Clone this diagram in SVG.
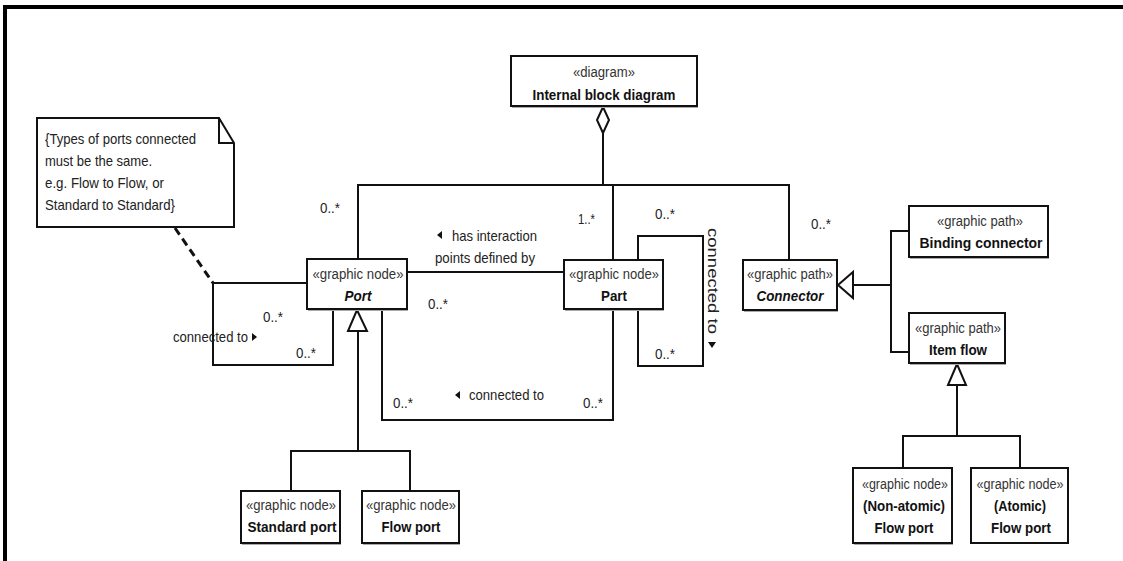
<svg xmlns="http://www.w3.org/2000/svg" width="1123" height="561" viewBox="0 0 1123 561">
<style>
.box{fill:#fff;stroke:#111;stroke-width:2}
.shadow{fill:#aaa;stroke:none}
.ln{fill:none;stroke:#111;stroke-width:2}
.st{font-family:"Liberation Sans",Arial,sans-serif;font-size:14px;fill:#333;text-anchor:middle}
.nm{font-family:"Liberation Sans",Arial,sans-serif;font-size:15px;font-weight:bold;fill:#111;text-anchor:middle}
.lb{font-family:"Liberation Sans",Arial,sans-serif;font-size:14.5px;fill:#222}
.tri{fill:#fff;stroke:#111;stroke-width:2}
.arr{fill:#111;stroke:none}
</style>
<rect x="0" y="0" width="1123" height="561" fill="#fff"/>
<g id="frame">
<line x1="3" y1="7" x2="1123" y2="7" stroke="#000" stroke-width="4"/>
<line x1="5" y1="5" x2="5" y2="561" stroke="#000" stroke-width="4"/>
</g>

<g id="connectors">
<polygon points="603,107 609,120 603,133 597,120" class="tri"/>
<line x1="603" y1="133" x2="603" y2="185" class="ln"/>
<polyline points="358,259 358,185 789,185 789,260" class="ln"/>
<line x1="613" y1="185" x2="613" y2="260" class="ln"/>
<line x1="407" y1="272" x2="564" y2="272" class="ln"/>
<polyline points="307,283 213,283 213,365 333,365 333,309" class="ln"/>
<polyline points="382,309 382,420 613,420 613,309" class="ln"/>
<polyline points="638,260 638,236 703,236 703,366 638,366 638,309" class="ln"/>
<line x1="175" y1="228" x2="213" y2="283" stroke="#111" stroke-width="3" stroke-dasharray="8,5"/>
<polyline points="853,285 891,285" class="ln"/>
<polyline points="910,231 891,231 891,352 910,352" class="ln"/>
<polygon points="838,285 853,272 853,298" class="tri"/>
<polyline points="957,385 957,436" class="ln"/>
<polyline points="903,468 903,436 1020,436 1020,468" class="ln"/>
<polygon points="957,364 948,385 966,385" class="tri"/>
<polyline points="358,331 358,451" class="ln"/>
<polyline points="291,491 291,451 410,451 410,491" class="ln"/>
<polygon points="357,310 348,331 367,331" class="tri"/>
</g>

<g id="labels">
<text class="lb" x="320" y="213" textLength="20" lengthAdjust="spacingAndGlyphs">0..*</text>
<text class="lb" x="578" y="224" textLength="17" lengthAdjust="spacingAndGlyphs">1..*</text>
<text class="lb" x="655" y="219" textLength="20" lengthAdjust="spacingAndGlyphs">0..*</text>
<text class="lb" x="811" y="229" textLength="20" lengthAdjust="spacingAndGlyphs">0..*</text>
<text class="lb" x="428" y="309" textLength="20" lengthAdjust="spacingAndGlyphs">0..*</text>
<text class="lb" x="655" y="359" textLength="20" lengthAdjust="spacingAndGlyphs">0..*</text>
<text class="lb" x="263" y="322" textLength="20" lengthAdjust="spacingAndGlyphs">0..*</text>
<text class="lb" x="296" y="358" textLength="20" lengthAdjust="spacingAndGlyphs">0..*</text>
<text class="lb" x="393" y="408" textLength="20" lengthAdjust="spacingAndGlyphs">0..*</text>
<text class="lb" x="583" y="408" textLength="20" lengthAdjust="spacingAndGlyphs">0..*</text>
<polygon class="arr" points="437,235 442,231 442,239"/>
<text class="lb" x="452" y="241" textLength="85" lengthAdjust="spacingAndGlyphs">has interaction</text>
<text class="lb" x="435" y="263" textLength="100" lengthAdjust="spacingAndGlyphs">points defined by</text>
<polygon class="arr" points="455,395 460,391 460,399"/>
<text class="lb" x="469" y="400" textLength="75" lengthAdjust="spacingAndGlyphs">connected to</text>
<text class="lb" x="173" y="342" textLength="75" lengthAdjust="spacingAndGlyphs">connected to</text>
<polygon class="arr" points="252,333 257,337 252,341"/>
<text class="lb" transform="translate(708,228) rotate(90)" font-size="13" textLength="106" lengthAdjust="spacingAndGlyphs">connected to</text>
<polygon class="arr" points="708,342 716,342 712,348"/>
</g>

<g id="note">
<polygon points="37,118 219,118 234,143 234,227 37,227" class="box"/>
<polyline points="219,118 219,143 234,143" class="ln"/>
<text class="lb" x="45" y="144" textLength="151" lengthAdjust="spacingAndGlyphs">{Types of ports connected</text>
<text class="lb" x="45" y="166" textLength="107" lengthAdjust="spacingAndGlyphs">must be the same.</text>
<text class="lb" x="45" y="188" textLength="119" lengthAdjust="spacingAndGlyphs">e.g. Flow to Flow, or</text>
<text class="lb" x="45" y="210" textLength="130" lengthAdjust="spacingAndGlyphs">Standard to Standard}</text>
</g>

<g id="diagram">
<rect class="shadow" x="512" y="58" width="186" height="50"/>
<rect class="box" x="511" y="56" width="186" height="50"/>
<text class="st" x="604" y="77" textLength="62" lengthAdjust="spacingAndGlyphs">«diagram»</text>
<text class="nm" x="604" y="100" textLength="143" lengthAdjust="spacingAndGlyphs">Internal block diagram</text>
</g>

<g id="port">
<rect class="shadow" x="308" y="261" width="100" height="50"/>
<rect class="box" x="307" y="259" width="100" height="50"/>
<text class="st" x="358" y="279" textLength="91" lengthAdjust="spacingAndGlyphs">«graphic node»</text>
<text class="nm" x="358" y="301" font-style="italic" textLength="27" lengthAdjust="spacingAndGlyphs">Port</text>
</g>

<g id="part">
<rect class="shadow" x="565" y="262" width="99" height="49"/>
<rect class="box" x="564" y="260" width="99" height="49"/>
<text class="st" x="614" y="279" textLength="90" lengthAdjust="spacingAndGlyphs">«graphic node»</text>
<text class="nm" x="614" y="301" textLength="26" lengthAdjust="spacingAndGlyphs">Part</text>
</g>

<g id="connector">
<rect class="shadow" x="744" y="262" width="94" height="50"/>
<rect class="box" x="743" y="260" width="94" height="50"/>
<text class="st" x="790" y="279" textLength="86" lengthAdjust="spacingAndGlyphs">«graphic path»</text>
<text class="nm" x="790" y="301" font-style="italic" textLength="67" lengthAdjust="spacingAndGlyphs">Connector</text>
</g>

<g id="binding">
<rect class="shadow" x="910" y="208" width="139" height="51"/>
<rect class="box" x="909" y="206" width="139" height="51"/>
<text class="st" x="980" y="226" textLength="86" lengthAdjust="spacingAndGlyphs">«graphic path»</text>
<text class="nm" x="981" y="248" textLength="123" lengthAdjust="spacingAndGlyphs">Binding connector</text>
</g>

<g id="itemflow">
<rect class="shadow" x="910" y="315" width="96" height="50"/>
<rect class="box" x="909" y="313" width="96" height="50"/>
<text class="st" x="958" y="333" textLength="86" lengthAdjust="spacingAndGlyphs">«graphic path»</text>
<text class="nm" x="958" y="355" textLength="58" lengthAdjust="spacingAndGlyphs">Item flow</text>
</g>

<g id="nonatomic">
<rect class="shadow" x="854" y="470" width="99" height="75"/>
<rect class="box" x="853" y="468" width="99" height="75"/>
<text class="st" x="905" y="489" textLength="86" lengthAdjust="spacingAndGlyphs">«graphic node»</text>
<text class="nm" x="904" y="511" textLength="82" lengthAdjust="spacingAndGlyphs">(Non-atomic)</text>
<text class="nm" x="904" y="533" textLength="59" lengthAdjust="spacingAndGlyphs">Flow port</text>
</g>

<g id="atomic">
<rect class="box" x="971" y="468" width="97" height="75" stroke-width="4"/>
<text class="st" x="1020" y="489" textLength="87" lengthAdjust="spacingAndGlyphs">«graphic node»</text>
<text class="nm" x="1020" y="511" textLength="52" lengthAdjust="spacingAndGlyphs">(Atomic)</text>
<text class="nm" x="1021" y="533" textLength="60" lengthAdjust="spacingAndGlyphs">Flow port</text>
</g>

<g id="standardport">
<rect class="shadow" x="242" y="493" width="99" height="52"/>
<rect class="box" x="241" y="491" width="99" height="52"/>
<text class="st" x="291" y="510" textLength="90" lengthAdjust="spacingAndGlyphs">«graphic node»</text>
<text class="nm" x="292" y="532" textLength="89" lengthAdjust="spacingAndGlyphs">Standard port</text>
</g>

<g id="flowport">
<rect class="shadow" x="363" y="493" width="97" height="52"/>
<rect class="box" x="362" y="491" width="97" height="52"/>
<text class="st" x="411" y="510" textLength="90" lengthAdjust="spacingAndGlyphs">«graphic node»</text>
<text class="nm" x="411" y="532" textLength="59" lengthAdjust="spacingAndGlyphs">Flow port</text>
</g>
</svg>
